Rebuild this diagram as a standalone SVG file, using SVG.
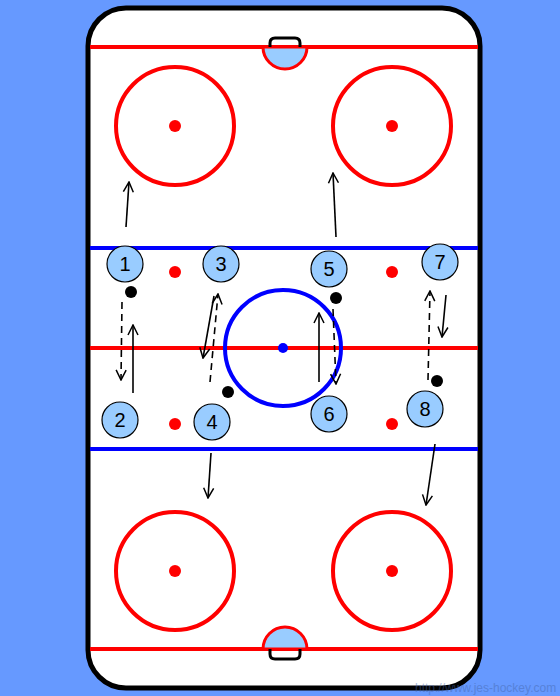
<svg xmlns="http://www.w3.org/2000/svg" width="560" height="696" viewBox="0 0 560 696">
<defs>
<marker id="ah" viewBox="0 0 12 12" refX="11" refY="6" markerWidth="12" markerHeight="12" markerUnits="userSpaceOnUse" orient="auto">
<path d="M1,1 L11,6 L1,11" fill="none" stroke="#000" stroke-width="1.5"/>
</marker>
<style>
.red{fill:none;stroke:#ff0000;stroke-width:4}
.rdot{fill:#ff0000}
.blue{fill:none;stroke:#0000ff;stroke-width:4}
.pl circle{fill:#99ccff;stroke:#000;stroke-width:1.2}
.pl text{font-family:"Liberation Sans",Arial,sans-serif;font-size:20px;text-anchor:middle;fill:#000}
.puck{fill:#000}
.mv{fill:none;stroke:#000;stroke-width:1.6;marker-end:url(#ah)}
.ps{fill:none;stroke:#000;stroke-width:1.6;stroke-dasharray:7,5;marker-end:url(#ah)}
.crease{fill:#99ccff;stroke:#ff0000;stroke-width:3}
.goal{fill:none;stroke:#000;stroke-width:3}
</style>
</defs>
<rect width="560" height="696" fill="#6699ff"/>
<g id="rink">
<rect x="88" y="8" width="392" height="680" rx="38" ry="38" fill="#fff" stroke="#000" stroke-width="5"/>
<line x1="90" y1="47" x2="478" y2="47" class="red"/>
<line x1="90" y1="649" x2="478" y2="649" class="red"/>
<line x1="90" y1="348" x2="478" y2="348" class="red"/>
<line x1="90" y1="248" x2="478" y2="248" class="blue" stroke-width="5"/>
<line x1="90" y1="449" x2="478" y2="449" class="blue" stroke-width="5"/>
<path class="crease" d="M263,47 A22,22 0 0 0 307,47 Z"/>
<path class="goal" d="M270,47 V43 Q270,38 275,38 H295 Q300,38 300,43 V47"/>
<path class="crease" d="M263,649 A22,22 0 0 1 307,649 Z"/>
<path class="goal" d="M270,649 V654 Q270,659 275,659 H295 Q300,659 300,654 V649"/>
<circle cx="175" cy="126" r="59" class="red"/>
<circle cx="392" cy="126" r="59" class="red"/>
<circle cx="175" cy="571" r="59" class="red"/>
<circle cx="392" cy="571" r="59" class="red"/>
<circle cx="175" cy="126" r="6" class="rdot"/>
<circle cx="392" cy="126" r="6" class="rdot"/>
<circle cx="175" cy="571" r="6" class="rdot"/>
<circle cx="392" cy="571" r="6" class="rdot"/>
<circle cx="175" cy="272" r="6" class="rdot"/>
<circle cx="392" cy="272" r="6" class="rdot"/>
<circle cx="175" cy="424" r="6" class="rdot"/>
<circle cx="392" cy="424" r="6" class="rdot"/>
<circle cx="283" cy="348" r="58" class="blue"/>
<circle cx="283" cy="348" r="5" fill="#0000ff"/>
</g>
<g id="connectors">
<line class="ps" x1="122" y1="302" x2="121" y2="380"/>
<line class="mv" x1="133" y1="393" x2="133" y2="325"/>
<line class="mv" x1="214" y1="296" x2="203" y2="358"/>
<line class="ps" x1="210" y1="382" x2="218" y2="294"/>
<line class="mv" x1="319" y1="382" x2="319" y2="313"/>
<line class="ps" x1="333" y1="309" x2="336" y2="384"/>
<line class="ps" x1="428" y1="380" x2="430" y2="291"/>
<line class="mv" x1="446" y1="295" x2="442" y2="337"/>
<line class="mv" x1="126" y1="227" x2="129" y2="182"/>
<line class="mv" x1="336" y1="237" x2="333" y2="173"/>
<line class="mv" x1="211" y1="453" x2="208" y2="498"/>
<line class="mv" x1="435" y1="444" x2="426" y2="505"/>
</g>
<g id="pucks">
<circle class="puck" cx="131" cy="292" r="6"/>
<circle class="puck" cx="228" cy="392" r="6"/>
<circle class="puck" cx="336" cy="298" r="6"/>
<circle class="puck" cx="437" cy="381" r="6"/>
</g>
<g id="p1" class="pl"><circle cx="125" cy="264" r="18"/><text x="125" y="271">1</text></g>
<g id="p2" class="pl"><circle cx="120" cy="420" r="18"/><text x="120" y="427">2</text></g>
<g id="p3" class="pl"><circle cx="221" cy="264" r="18"/><text x="221" y="271">3</text></g>
<g id="p4" class="pl"><circle cx="212" cy="422" r="18"/><text x="212" y="429">4</text></g>
<g id="p5" class="pl"><circle cx="329" cy="269" r="18"/><text x="329" y="276">5</text></g>
<g id="p6" class="pl"><circle cx="329" cy="414" r="18"/><text x="329" y="421">6</text></g>
<g id="p7" class="pl"><circle cx="440" cy="262" r="18"/><text x="440" y="269">7</text></g>
<g id="p8" class="pl"><circle cx="425" cy="409" r="18"/><text x="425" y="416">8</text></g>
<text x="415" y="692" font-family="'Liberation Sans',Arial,sans-serif" font-size="12" fill="#4466aa" opacity="0.45">http://www.jes-hockey.com</text>
</svg>
